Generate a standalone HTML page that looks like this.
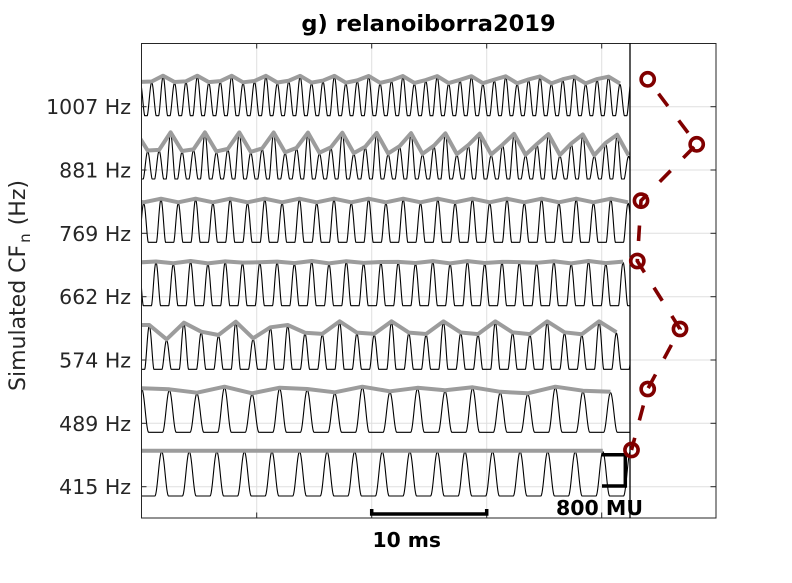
<!DOCTYPE html>
<html>
<head>
<meta charset="utf-8">
<style>
html,body{margin:0;padding:0;background:#fff;}
svg{display:block;}
text{font-family:"DejaVu Sans","Liberation Sans",sans-serif;}
</style>
</head>
<body>
<svg id="s" width="792" height="583" viewBox="0 0 792 583" xmlns="http://www.w3.org/2000/svg">
<defs><clipPath id="cp"><rect x="141" y="43" width="489" height="475"/></clipPath></defs>
<rect width="792" height="583" fill="#fff"/>
<g stroke="#dfdfdf" stroke-width="1">
  <line x1="141" y1="106.7" x2="716" y2="106.7"/>
  <line x1="141" y1="170" x2="716" y2="170"/>
  <line x1="141" y1="233.3" x2="716" y2="233.3"/>
  <line x1="141" y1="296.7" x2="716" y2="296.7"/>
  <line x1="141" y1="360" x2="716" y2="360"/>
  <line x1="141" y1="423.3" x2="716" y2="423.3"/>
  <line x1="141" y1="486.7" x2="716" y2="486.7"/>
  <line x1="256.7" y1="43" x2="256.7" y2="518"/>
  <line x1="371.7" y1="43" x2="371.7" y2="518"/>
  <line x1="486.7" y1="43" x2="486.7" y2="518"/>
  <line x1="601.7" y1="43" x2="601.7" y2="518"/>
</g>
<g id="waves" clip-path="url(#cp)"></g>
<rect x="141.5" y="43.5" width="574.5" height="474.5" fill="none" stroke="#262626" stroke-width="1"/>
<g stroke="#262626" stroke-width="1">
  <line x1="141" y1="106.7" x2="146.5" y2="106.7"/>
  <line x1="141" y1="170" x2="146.5" y2="170"/>
  <line x1="141" y1="233.3" x2="146.5" y2="233.3"/>
  <line x1="141" y1="296.7" x2="146.5" y2="296.7"/>
  <line x1="141" y1="360" x2="146.5" y2="360"/>
  <line x1="141" y1="423.3" x2="146.5" y2="423.3"/>
  <line x1="141" y1="486.7" x2="146.5" y2="486.7"/>
  <line x1="710.5" y1="106.7" x2="716" y2="106.7"/>
  <line x1="710.5" y1="170" x2="716" y2="170"/>
  <line x1="710.5" y1="233.3" x2="716" y2="233.3"/>
  <line x1="710.5" y1="296.7" x2="716" y2="296.7"/>
  <line x1="710.5" y1="360" x2="716" y2="360"/>
  <line x1="710.5" y1="423.3" x2="716" y2="423.3"/>
  <line x1="710.5" y1="486.7" x2="716" y2="486.7"/>
  <line x1="256.7" y1="43" x2="256.7" y2="48.5"/>
  <line x1="371.7" y1="43" x2="371.7" y2="48.5"/>
  <line x1="486.7" y1="43" x2="486.7" y2="48.5"/>
  <line x1="601.7" y1="43" x2="601.7" y2="48.5"/>
  <line x1="256.7" y1="518" x2="256.7" y2="512.5"/>
  <line x1="371.7" y1="518" x2="371.7" y2="512.5"/>
  <line x1="486.7" y1="518" x2="486.7" y2="512.5"/>
  <line x1="601.7" y1="518" x2="601.7" y2="512.5"/>
</g>
<line x1="630" y1="43" x2="630" y2="518" stroke="#000" stroke-width="1.3"/>
<polyline points="371.7,509 371.7,514 486.7,514 486.7,509" fill="none" stroke="#000" stroke-width="3.5"/>
<polyline points="602,454.7 625.3,454.7 625.3,486 602,486" fill="none" stroke="#000" stroke-width="3.5"/>
<polyline points="647.7,79.3 696.7,144.3 641,200.7 637.3,261 680,329 647.7,389 631.5,450" fill="none" stroke="#800000" stroke-width="3.6" stroke-dasharray="15.5 18" stroke-dashoffset="15.5"/>
<g fill="none" stroke="#800000" stroke-width="3.6">
  <circle cx="647.7" cy="79.3" r="6.6"/>
  <circle cx="696.7" cy="144.3" r="6.6"/>
  <circle cx="641" cy="200.7" r="6.6"/>
  <circle cx="637.3" cy="261" r="6.6"/>
  <circle cx="680" cy="329" r="6.6"/>
  <circle cx="647.7" cy="389" r="6.6"/>
  <circle cx="631.5" cy="450" r="6.6"/>
</g>
<text x="428.5" y="31" text-anchor="middle" font-size="22.5" font-weight="bold" fill="#000">g) relanoiborra2019</text>
<g font-size="20.5" fill="#262626" text-anchor="end">
  <text x="131" y="114.2">1007 Hz</text>
  <text x="131" y="177.5">881 Hz</text>
  <text x="131" y="240.8">769 Hz</text>
  <text x="131" y="304.2">662 Hz</text>
  <text x="131" y="367.5">574 Hz</text>
  <text x="131" y="430.8">489 Hz</text>
  <text x="131" y="494.2">415 Hz</text>
</g>
<text transform="translate(25,391) rotate(-90)" font-size="22" fill="#262626">Simulated CF<tspan dx="2" dy="5" font-size="15">n</tspan><tspan dx="8" dy="-5">(Hz)</tspan></text>
<text x="372.5" y="547" font-size="20.3" font-weight="bold" fill="#000">10 ms</text>
<text x="556" y="515" font-size="20.5" font-weight="bold" fill="#000">800 MU</text>
</svg>
<script>
(function(){
  var NS="http://www.w3.org/2000/svg";
  var g=document.getElementById('waves');
  var TP=2*Math.PI;
  var A574=[44.3,44.3,30,46.6,37.6,34.3,47.6,31,42,44.3];
  var A489=[44,44,43,39.6,45.6,39,44.6,43.3,40,45.6,41,44.5,42,45,40.5,39,45.6,41.6,40.6,42];
  var rows=[
    {base:115.7,t0:151.7,T:11.42,c:-0.75,p:1.2,amp:function(k,x){return 36+4*Math.cos(TP*(x-162.7)/34.0);}},
    {base:179,t0:147.7,T:11.45,c:-0.75,p:1.2,amp:function(k,x){return 34.7+12*Math.cos(TP*(x-170.3)/34.1);}},
    {base:242.3,t0:143.7,T:17.3,c:-0.1,p:1.6,amp:function(k,x){return 41.8+1.8*Math.cos(TP*(x-196)/34.6);}},
    {base:305.7,t0:156,T:17.3,c:-0.1,p:1.6,amp:function(k,x){return 43.5+1.2*Math.cos(TP*(x-150)/40);}},
    {base:369.3,t0:149.3,T:17.3,c:-0.1,p:1.6,amp:function(k,x){if(k>=-1&&k<=8)return A574[k+1];return 40+8*Math.cos(TP*(x-184.3)/52);}},
    {base:432.3,t0:141.8,T:27.57,c:0,p:2,amp:function(k,x){var i=k+1;if(i<0)i=0;if(i>=A489.length)i=A489.length-1;return A489[i];}},
    {base:496,t0:161.7,T:27.57,c:0,p:2,amp:function(){return 45.3;}}
  ];
  rows.forEach(function(r){
    var d='';
    for(var x=141;x<=630.001;x+=0.2){
      var k=Math.round((x-r.t0)/r.T);
      var xk=r.t0+k*r.T;
      var a=r.amp(k,xk)-1;
      var th=TP*(x-xk)/r.T;
      var s=(Math.cos(th)-r.c)/(1-r.c); if(s<0)s=0; s=Math.pow(s,r.p);
      var y=r.base-a*s;
      d+=(d?'L':'M')+x.toFixed(2)+' '+y.toFixed(2);
    }
    var p1=document.createElementNS(NS,'path');
    p1.setAttribute('d',d);p1.setAttribute('fill','none');p1.setAttribute('stroke','#000');p1.setAttribute('stroke-width','1.1');
    g.appendChild(p1);
    var e='';
    var kmin=Math.ceil((141-r.T-r.t0)/r.T), kmax=Math.floor((630-r.t0)/r.T);
    for(var k2=kmin;k2<=kmax;k2++){
      var xk2=r.t0+k2*r.T;
      var y2=r.base-r.amp(k2,xk2);
      e+=(e?'L':'M')+xk2.toFixed(2)+' '+y2.toFixed(2);
    }
    var p2=document.createElementNS(NS,'path');
    p2.setAttribute('d',e);p2.setAttribute('fill','none');p2.setAttribute('stroke','#9c9c9c');p2.setAttribute('stroke-width','4');p2.setAttribute('stroke-linejoin','round');
    g.appendChild(p2);
  });
})();
</script>
</body>
</html>
